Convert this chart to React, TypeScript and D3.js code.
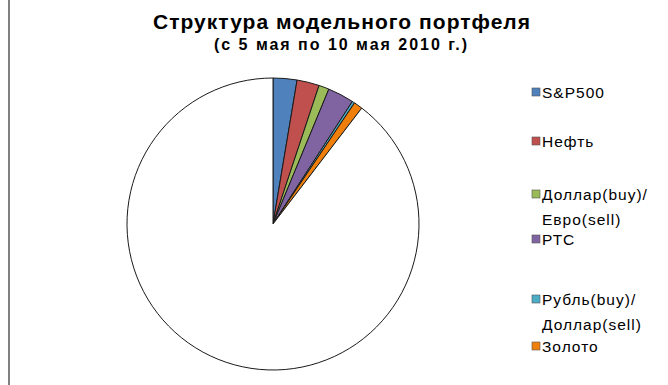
import React from "react";
import * as d3 from "d3";

const categories = ["S&P500", "Нефть", "Доллар(buy)/\nЕвро(sell)", "РТС", "Рубль(buy)/\nДоллар(sell)", "Золото", ""];
const values = [2.64, 2.47, 1.14, 2.9, 0.28, 0.97, 89.6];
const colors = ["#4F81BD", "#C0504D", "#9BBB59", "#8064A2", "#4BACC6", "#F07F0A", "#FFFFFF"];
const legendY = [92, 141, 194, 239, 299, 346];

const W = 668;
const H = 385;

export default function App() {
  const cx = 273;
  const cy = 224;
  const r = 146;
  const pie = d3.pie<number>().sort(null).value((d) => d)(values);
  const arc = d3.arc<d3.PieArcDatum<number>>().innerRadius(0).outerRadius(r);
  const font = "Arial, 'Liberation Sans', sans-serif";
  return (
    <svg width={W} height={H} style={{ position: "absolute", left: 0, top: 0, background: "#fff" }}>
      <rect x={0} y={0} width={W} height={H} fill="#fff" />
      <line x1={9} y1={0} x2={9} y2={H} stroke="#808080" strokeWidth={2} />
      <text x={153} y={29} fontFamily={font} fontWeight="bold" fontSize={21} fill="#000" textLength={377}>
        Структура модельного портфеля
      </text>
      <text x={214} y={50} fontFamily={font} fontWeight="bold" fontSize={16} fill="#000" textLength={253}>
        (с 5 мая по 10 мая 2010 г.)
      </text>
      <g transform={`translate(${cx},${cy})`}>
        {pie.map((p, i) => (
          <path key={i} d={arc(p) || ""} fill={colors[i]} stroke="#1a1a1a" strokeWidth={1} strokeLinejoin="round" />
        ))}
      </g>
      {categories.slice(0, 6).map((c, i) => {
        const lines = c.split("\n");
        return (
          <g key={i}>
            <rect x={532} y={legendY[i] - 4} width={8} height={8} fill={colors[i]} stroke="#555" strokeWidth={0.6} />
            {lines.map((l, j) => (
              <text key={j} x={542} y={legendY[i] + 5.5 + j * 25} fontFamily={font} fontSize={15.5} letterSpacing={1} fill="#000">
                {l}
              </text>
            ))}
          </g>
        );
      })}
    </svg>
  );
}
